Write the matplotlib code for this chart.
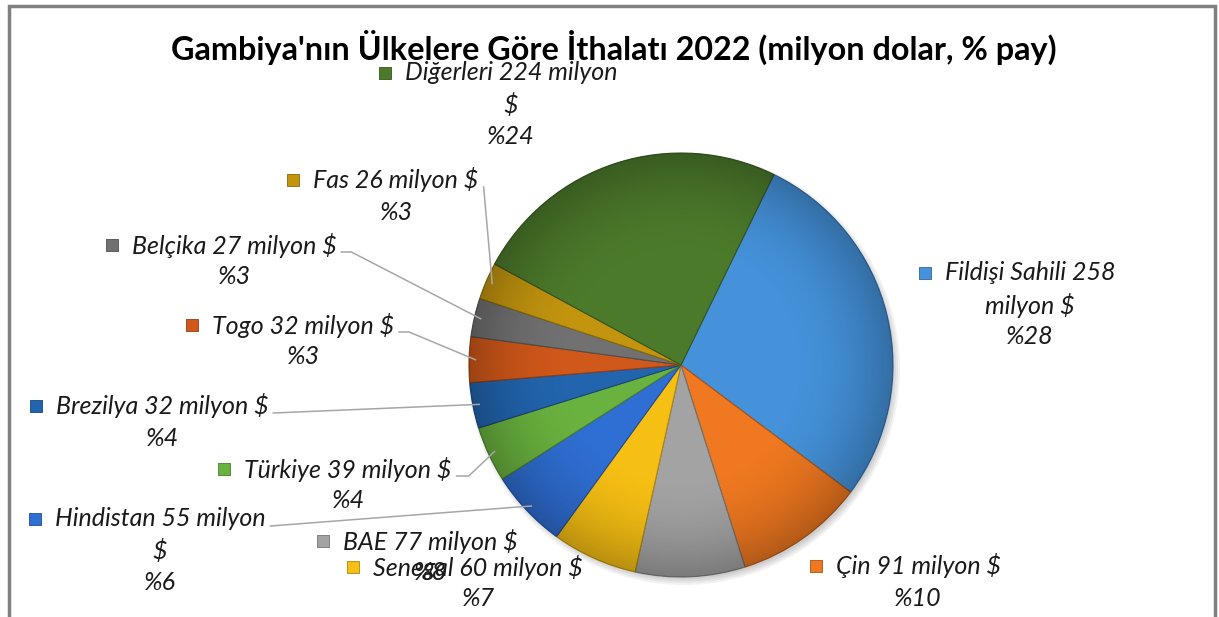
import numpy as np
import matplotlib.pyplot as plt
from matplotlib.patches import Rectangle, Circle
from matplotlib.colors import to_rgb

# Gambiya ithalati 2022 (milyon $)
ulkeler = ['Fildişi Sahili', 'Çin', 'BAE', 'Senegal', 'Hindistan', 'Türkiye',
           'Brezilya', 'Togo', 'Belçika', 'Fas', 'Diğerleri']
ithalat = [258, 91, 77, 60, 55, 39, 32, 32, 27, 26, 224]
pay = [28, 10, 8, 7, 6, 4, 4, 3, 3, 3, 24]
renkler = ['#4592DA', '#EF7820', '#A3A3A3', '#F6BF14', '#2F6ED2', '#6AB23F',
           '#2265AE', '#D0581A', '#717171', '#C3950F', '#4C7A2B']

W, H = 1219, 617
fig = plt.figure(figsize=(W / 100, H / 100), dpi=100)
ax = fig.add_axes([0, 0, 1, 1])

# piksel koordinatlari (y yukaridan) -> veri koordinati
def Y(y):
    return H - y

cx, cy, r = 681, Y(365), 212

# golge
for i, a in enumerate([0.05, 0.05, 0.05, 0.05]):
    ax.add_patch(Circle((cx + 3, cy - 4), r + 4 - i * 2, color='black', alpha=a, lw=0, zorder=0))

koyu = [tuple(c * 0.7 for c in to_rgb(k)) for k in renkler]
wedges, _ = ax.pie(ithalat, colors=renkler, startangle=64, counterclock=False,
                   center=(cx, cy), radius=r,
                   wedgeprops=dict(linewidth=0.8, edgecolor='#555555'))
for w, k in zip(wedges, koyu):
    w.set_edgecolor(k)

# kenarlara dogru koyulasan golgelendirme
n = 400
yy, xx = np.mgrid[-1:1:n * 1j, -1:1:n * 1j]
rr = np.hypot(xx, yy)
gol = np.zeros((n, n, 4))
gol[..., 3] = np.clip((rr - 0.5) / 0.5, 0, 1) ** 2 * 0.25
im = ax.imshow(gol, extent=[cx - r, cx + r, cy - r, cy + r], zorder=3, interpolation='bilinear')
im.set_clip_path(Circle((cx, cy), r, transform=ax.transData))

ax.set_xlim(0, W)
ax.set_ylim(0, H)
ax.set_aspect('auto')
ax.axis('off')

# etiketler: ilk satir merkezi (x, y)
etiket_xy = [(1030, 273), (918, 566), (430, 541), (478, 567), (160, 519), (348, 469),
             (162, 406), (303, 325), (234, 245), (396, 180), (511, 73)]
kir = {0: 2, 4: 1, 10: 1}            # alt satira tasinan kelime sayisi
kol = {4: 0, 5: 12, 6: 0, 7: 10, 8: 10, 9: 0}  # leader cizgisi olanlar
aralik = 32

metinler = []
for i, (u, d, p) in enumerate(zip(ulkeler, ithalat, pay)):
    kelime = f'{u} {d} milyon $'.split()
    k = kir.get(i, 2)
    satirlar = [' '.join(kelime[:-k]), ' '.join(kelime[-k:])] if i in kir else [' '.join(kelime)]
    satirlar.append(f'%{p}')
    x0, y0 = etiket_xy[i]
    ts = []
    for j, s in enumerate(satirlar):
        ts.append(ax.text(x0, Y(y0 + j * aralik), s, ha='center', va='center',
                          fontsize=18, style='italic', family='Lato', color='#1a1a1a', zorder=6))
    metinler.append(ts)

fig.text(613.5 / W, 1 - 47 / H, "Gambiya'nın Ülkelere Göre İthalatı 2022 (milyon dolar, % pay)",
         ha='center', va='center', fontsize=23.3, fontweight='bold', family='Lato', color='black')

fig.canvas.draw()
rend = fig.canvas.get_renderer()
for i, ts in enumerate(metinler):
    bb = ts[0].get_window_extent(rend)
    ym = Y(etiket_xy[i][1])
    ax.scatter(bb.x0 - 20, ym, marker='s', s=75, color=renkler[i], edgecolors=koyu[i],
               linewidths=0.6, zorder=6)
    if i in kol:
        w = wedges[i]
        a = np.deg2rad((w.theta1 + w.theta2) / 2)
        px, py = cx + 0.97 * r * np.cos(a), cy + 0.97 * r * np.sin(a)
        sx, sy = bb.x1 + 5, ym - 7
        ax.plot([sx, sx + kol[i], px], [sy, sy, py], color='#A6A6A6', lw=1.1, zorder=4)

# cerceve
ax.add_patch(Rectangle((9, -20), 1206, Y(5.5) + 20, fill=False, edgecolor='#808080', lw=2.5, zorder=7))

ax.set_xlim(0, W)
ax.set_ylim(0, H)

fig.savefig('out.png', dpi=100)
